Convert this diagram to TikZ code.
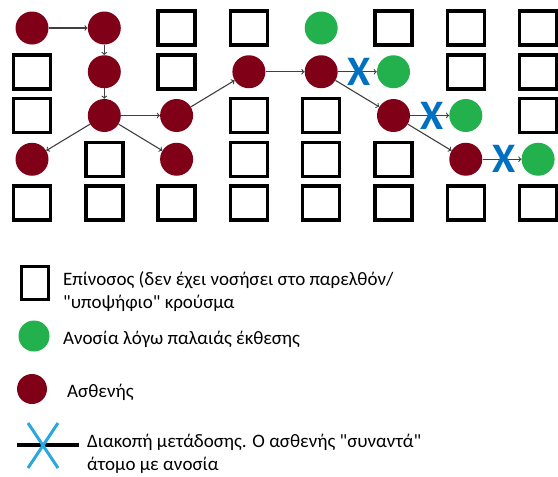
\documentclass[tikz,border=0pt]{standalone}
\usepackage{fontspec}
\setmainfont{Carlito}[Ligatures=TeXOff]
\definecolor{sickred}{HTML}{800018}
\definecolor{immgreen}{HTML}{22B14C}
\definecolor{stopblue}{HTML}{0070C0}
\definecolor{crossblue}{HTML}{29A8E0}
\begin{document}
\begin{tikzpicture}[x=1pt, y=-1pt,
    cand/.style={draw, line width=3.5pt, minimum width=37pt, minimum height=34pt, inner sep=0pt},
    sick/.style={circle, fill=sickred, minimum size=33pt, inner sep=0pt},
    immune/.style={circle, fill=immgreen, minimum size=33pt, inner sep=0pt},
    contact/.style={draw=black!75, line width=1.1pt, ->},
    stopx/.style={text=stopblue, font=\bfseries\fontsize{42}{42}\selectfont, inner sep=0pt, pos=.55},
    legtext/.style={anchor=west, align=left, inner sep=0pt, font=\fontsize{19}{23}\selectfont}]
    \useasboundingbox (0,0) rectangle (558,477);

    % Population grid
    \foreach \r/\row in {1/{sick,sick,cand,cand,immune,cand,cand,cand},
                         2/{cand,sick,cand,sick,sick,immune,cand,cand},
                         3/{cand,sick,sick,cand,cand,sick,immune,cand},
                         4/{sick,cand,sick,cand,cand,cand,sick,immune},
                         5/{cand,cand,cand,cand,cand,cand,cand,cand}} {
      \foreach \k [count=\c] in \row {
        \node[\k] (n\r\c) at ({32+72.3*(\c-1)}, {28+43.75*(\r-1)}) {};
      }
    }

    % Spreading chain
    \draw[contact] (n11) -- (n12);
    \draw[contact] (n12) -- (n22);
    \draw[contact] (n22) -- (n32);
    \draw[contact] (n32) -- (n33);
    \draw[contact] (n32) -- (n41);
    \draw[contact] (n32) -- (n43);
    \draw[contact] (n33) -- (n24);
    \draw[contact] (n24) -- (n25);
    \draw[contact] (n25) -- (n36);
    \draw[contact] (n36) -- (n47);

    % Blocked contacts
    \draw[contact] (n25) -- node[stopx] {X} (n26);
    \draw[contact] (n36) -- node[stopx] {X} (n37);
    \draw[contact] (n47) -- node[stopx] {X} (n48);

    % Legend
    \node[cand, minimum width=27pt, minimum height=33pt] (keycand) at (35,283) {};
    \node[legtext] (txtcand) at (63,292) {Επίνοσος (δεν έχει νοσήσει στο παρελθόν/\\"υποψήφιο" κρούσμα};
    \node[immune, minimum size=31pt] (keyimm) at (34,336) {};
    \node[legtext] (txtimm) at (63,339) {Ανοσία λόγω παλαιάς έκθεσης};
    \node[sick, minimum size=30pt] (keysick) at (32,389) {};
    \node[legtext] (txtsick) at (67,392) {Ασθενής};
    \coordinate (keyl) at (17,445);
    \coordinate (keyr) at (79,445);
    \draw[line width=4pt] (keyl) -- (keyr);
    \draw[crossblue, line width=3pt] (28,423) -- (58,468) (58,423) -- (28,468);
    \node[legtext] (txtstop) at (87,454) {Διακοπή μετάδοσης. Ο ασθενής "συναντά"\\άτομο με ανοσία};
\end{tikzpicture}
\end{document}
